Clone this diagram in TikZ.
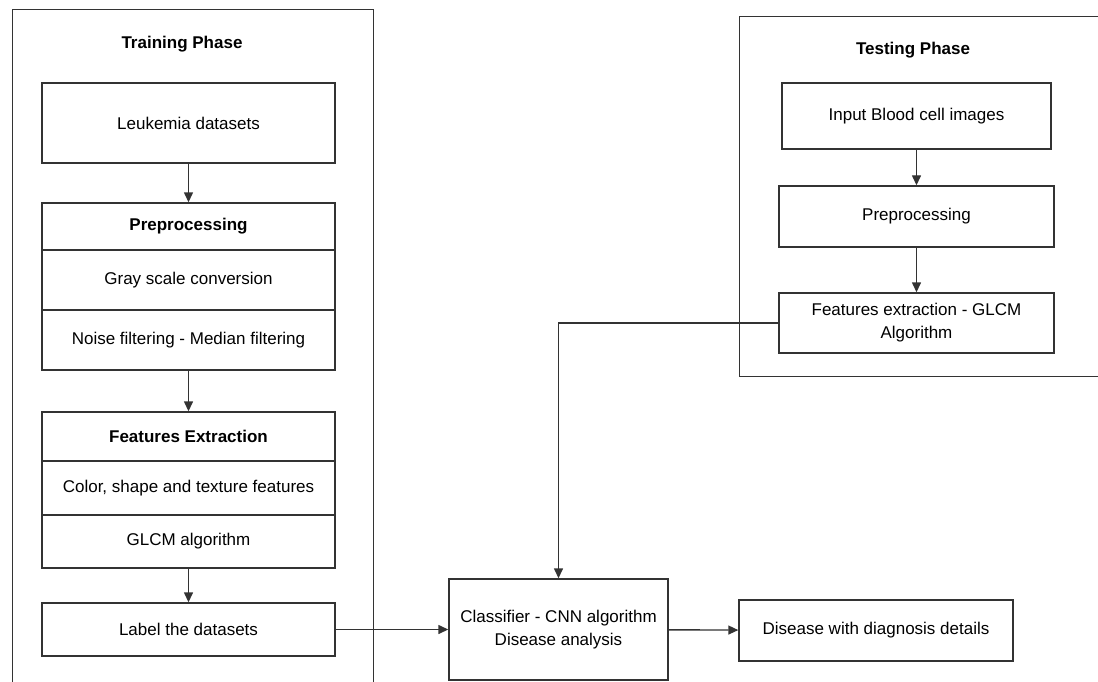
\documentclass[tikz,border=0pt]{standalone}
\usepackage{fontspec}
\setmainfont{Liberation Sans}
\usetikzlibrary{arrows.meta}
\begin{document}
\begin{tikzpicture}[x=1pt, y=-1pt, line width=1.4pt, draw=black!80, >={Triangle[length=10pt,width=9pt]},
  main node/.style={rectangle,draw,inner sep=2pt,align=center,font=\fontsize{17}{23}\selectfont},
  title node/.style={font=\fontsize{17}{23}\selectfont\bfseries}]
\useasboundingbox (0,0) rectangle (1098,682);
% phase frames
\draw[line width=1pt] (12,682) -- (12,10) -- (373,10) -- (373,682);
\draw[line width=1pt] (1098,17) -- (739,17) -- (739,376) -- (1098,376);
\node [title node](trainT) at (182,44) {Training Phase};
\node [title node](testT) at (913,50) {Testing Phase};
% training phase
\begin{scope}[every node/.style={main node,minimum width=293pt}]
\node (ld) at (188.5,123) [minimum height=80pt] {Leukemia datasets};
\node (pre) at (188.5,226.5) [minimum height=47pt,font=\fontsize{17}{23}\selectfont\bfseries] {Preprocessing};
\node (gray) at (188.5,280) [minimum height=60pt] {Gray scale conversion};
\node (noise) at (188.5,340) [minimum height=60pt] {Noise filtering - Median filtering};
\node (fe) at (188.5,436.5) [minimum height=49pt,font=\fontsize{17}{23}\selectfont\bfseries] {Features Extraction};
\node (color) at (188.5,488) [minimum height=54pt] {Color, shape and texture features};
\node (glcm) at (188.5,541.5) [minimum height=53pt] {GLCM algorithm};
\node (label) at (188.5,629.5) [minimum height=53pt] {Label the datasets};
\end{scope}
% testing phase
\node [main node,minimum width=269pt,minimum height=66pt](input) at (916.5,116) {Input Blood cell images};
\node [main node,minimum width=275pt,minimum height=61pt](tpre) at (916.5,216.5) {Preprocessing};
\node [main node,minimum width=275pt,minimum height=60pt](tfe) at (916.5,323) {Features extraction - GLCM\\Algorithm};
% classification
\node [main node,minimum width=219pt,minimum height=101pt](cls) at (558.5,629.5) {Classifier - CNN algorithm\\Disease analysis};
\node [main node,minimum width=274pt,minimum height=61pt](dis) at (876,630.5) {Disease with diagnosis details};
\path [->]
	(ld) edge (pre)
	(noise) edge (fe)
	(glcm) edge (label)
	(input) edge (tpre)
	(tpre) edge (tfe)
	(label) edge (cls)
	(cls) edge (dis)
	;
\draw [->] (tfe.west) -| (cls.north);
\end{tikzpicture}
\end{document}
